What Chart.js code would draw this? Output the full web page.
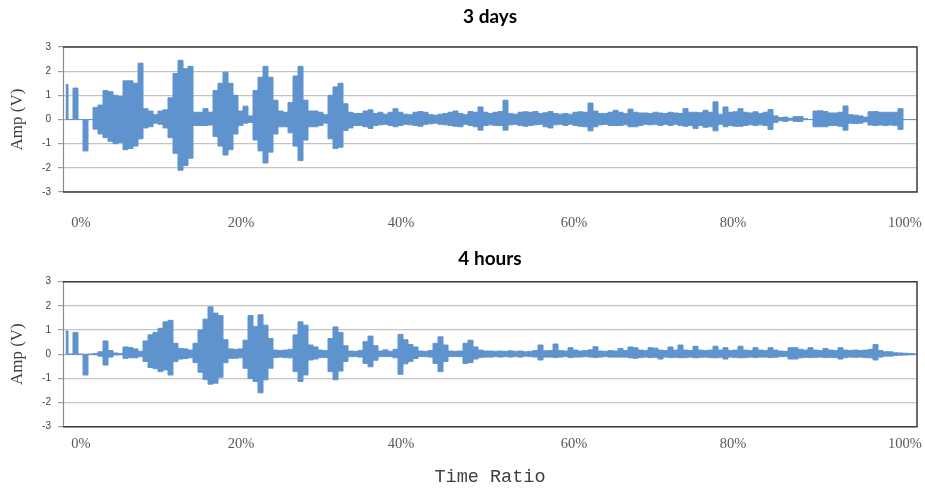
<!DOCTYPE html>
<html>
<head>
<meta charset="utf-8">
<script src="https://cdn.jsdelivr.net/npm/chart.js@4"></script>
<style>
  html, body { margin: 0; padding: 0; background: #fff; }
  .wrap { position: relative; width: 925px; }
  #top { height: 240px; }
  #bottom { height: 249px; }
</style>
</head>
<body>
<div class="wrap" id="top"><canvas id="chartTop"></canvas></div>
<div class="wrap" id="bottom"><canvas id="chartBottom"></canvas></div>
<script>
// envelope of the signal, one max/min pair per bin of 5 samples (854 samples per record)
const BIN = 5;
const SAMPLES = 854;

// x axis labels sit on given sample positions (category-style axis)
const xTickPos = [18, 178, 338, 511, 670, 842];
const xTickLabels = ['0%', '20%', '40%', '60%', '80%', '100%'];

// "3 days"
const topHi = [
  1.45, 0, 1.3, 0, 0, 0, 0.5, 0.6, 1.2, 1.15,
  1.0, 0.95, 1.6, 1.6, 1.5, 2.33, 0.45, 0.35, 0.2, 0.35,
  0.4, 0.9, 1.9, 2.45, 2.1, 2.2, 0.3, 0.3, 0.45, 0.3,
  1.2, 1.5, 1.96, 1.5, 1.0, 0.35, 0.55, 0.15, 1.2, 1.75,
  2.2, 1.75, 0.8, 0.35, 0.3, 0.7, 1.8, 2.2, 0.8, 0.35,
  0.35, 0.3, 0.2, 1.0, 1.35, 1.5, 0.65, 0.3, 0.25, 0.25,
  0.35, 0.4, 0.25, 0.3, 0.22, 0.3, 0.45, 0.3, 0.22, 0.2,
  0.3, 0.33, 0.3, 0.2, 0.18, 0.22, 0.25, 0.3, 0.35, 0.25,
  0.2, 0.33, 0.3, 0.52, 0.3, 0.25, 0.3, 0.33, 0.8, 0.25,
  0.22, 0.3, 0.32, 0.3, 0.33, 0.25, 0.28, 0.33, 0.25, 0.22,
  0.25, 0.22, 0.3, 0.32, 0.3, 0.68, 0.35, 0.25, 0.25, 0.3,
  0.38, 0.3, 0.25, 0.43, 0.3, 0.27, 0.27, 0.25, 0.3, 0.27,
  0.25, 0.3, 0.27, 0.25, 0.45, 0.3, 0.3, 0.28, 0.38, 0.3,
  0.73, 0.22, 0.52, 0.3, 0.32, 0.45, 0.3, 0.27, 0.32, 0.25,
  0.3, 0.41, 0.15, 0.08, 0.1, 0.05, 0.12, 0.12, 0.03, 0,
  0.35, 0.36, 0.33, 0.27, 0.27, 0.3, 0.56, 0.2, 0.18, 0.15,
  0.1, 0.32, 0.33, 0.3, 0.3, 0.3, 0.3, 0.45, 0, 0, 0
];
const topLo = [
  0, 0, 0, 0, -1.3, 0, -0.4, -0.6, -0.75, -0.9,
  -1.0, -0.95, -1.25, -1.2, -1.1, -0.8, -0.35, -0.3, -0.15, -0.2,
  -0.35, -0.75, -1.4, -2.1, -1.9, -1.6, -0.25, -0.25, -0.25, -0.23,
  -0.7, -1.1, -1.47, -1.25, -0.6, -0.25, -0.15, -0.12, -0.85, -1.3,
  -1.8, -1.35, -0.6, -0.3, -0.3, -0.55, -1.1, -1.7, -0.85, -0.3,
  -0.3, -0.25, -0.15, -0.8, -1.2, -1.15, -0.45, -0.35, -0.25, -0.25,
  -0.3, -0.37, -0.25, -0.22, -0.2, -0.25, -0.3, -0.25, -0.2, -0.22,
  -0.25, -0.28, -0.2, -0.18, -0.15, -0.2, -0.22, -0.25, -0.28, -0.3,
  -0.2, -0.25, -0.3, -0.44, -0.25, -0.22, -0.25, -0.25, -0.44, -0.22,
  -0.2, -0.25, -0.28, -0.25, -0.22, -0.2, -0.3, -0.35, -0.22, -0.2,
  -0.25, -0.2, -0.25, -0.28, -0.3, -0.47, -0.3, -0.22, -0.2, -0.25,
  -0.25, -0.25, -0.22, -0.3, -0.3, -0.25, -0.2, -0.22, -0.2, -0.25,
  -0.2, -0.25, -0.2, -0.25, -0.28, -0.25, -0.37, -0.25, -0.32, -0.3,
  -0.47, -0.2, -0.3, -0.25, -0.28, -0.28, -0.25, -0.22, -0.25, -0.22,
  -0.25, -0.41, -0.12, -0.05, -0.08, -0.03, -0.08, -0.08, 0, 0,
  -0.3, -0.3, -0.3, -0.25, -0.25, -0.28, -0.44, -0.15, -0.17, -0.15,
  -0.1, -0.23, -0.25, -0.23, -0.25, -0.23, -0.25, -0.41, 0, 0, 0
];

// "4 hours"
const bottomHi = [
  0.96, 0, 0.9, 0, 0, 0, 0.03, 0.1, 0.55, 0.15,
  0.05, 0.03, 0.3, 0.28, 0.22, 0.12, 0.55, 0.8, 0.9, 1.07,
  1.34, 1.4, 0.45, 0.24, 0.22, 0.17, 0.45, 1.0, 1.45, 1.96,
  1.7, 1.6, 0.6, 0.22, 0.2, 0.22, 0.58, 1.6, 1.15, 1.63,
  1.2, 0.65, 0.17, 0.15, 0.17, 0.2, 0.8, 1.34, 1.2, 0.38,
  0.3, 0.17, 0.15, 0.65, 1.13, 0.9, 0.35, 0.13, 0.12, 0.15,
  0.52, 0.75, 0.35, 0.13, 0.18, 0.12, 0.2, 0.82, 0.6, 0.4,
  0.3, 0.13, 0.12, 0.15, 0.45, 0.72, 0.38, 0.13, 0.12, 0.13,
  0.45, 0.58, 0.3, 0.17, 0.13, 0.13, 0.12, 0.13, 0.12, 0.14,
  0.12, 0.13, 0.1, 0.12, 0.15, 0.38, 0.14, 0.15, 0.42, 0.15,
  0.13, 0.27, 0.17, 0.13, 0.15, 0.18, 0.31, 0.13, 0.12, 0.15,
  0.13, 0.24, 0.15, 0.3, 0.27, 0.17, 0.15, 0.27, 0.25, 0.17,
  0.15, 0.3, 0.17, 0.38, 0.17, 0.15, 0.33, 0.17, 0.15, 0.17,
  0.33, 0.17, 0.27, 0.15, 0.17, 0.33, 0.17, 0.15, 0.27, 0.17,
  0.15, 0.27, 0.17, 0.13, 0.12, 0.27, 0.27, 0.2, 0.17, 0.27,
  0.17, 0.15, 0.24, 0.17, 0.15, 0.27, 0.17, 0.15, 0.17, 0.15,
  0.17, 0.2, 0.4, 0.15, 0.1, 0.1, 0.06, 0.05, 0.04, 0.03, 0.02
];
const bottomLo = [
  0, 0, 0, 0, -0.86, 0, -0.02, -0.08, -0.45, -0.12,
  -0.03, -0.02, -0.17, -0.15, -0.15, -0.1, -0.3, -0.55, -0.6, -0.72,
  -0.65, -0.86, -0.3, -0.2, -0.18, -0.15, -0.35, -0.75, -1.05, -1.24,
  -1.2, -0.95, -0.35, -0.17, -0.17, -0.15, -0.58, -1.0, -1.13, -1.6,
  -1.06, -0.58, -0.14, -0.12, -0.14, -0.15, -0.72, -1.13, -0.86, -0.24,
  -0.2, -0.14, -0.14, -0.72, -1.06, -0.7, -0.3, -0.1, -0.1, -0.12,
  -0.38, -0.52, -0.25, -0.1, -0.1, -0.1, -0.15, -0.83, -0.4, -0.3,
  -0.18, -0.1, -0.1, -0.12, -0.38, -0.72, -0.3, -0.1, -0.1, -0.1,
  -0.38, -0.35, -0.2, -0.14, -0.12, -0.12, -0.1, -0.12, -0.1, -0.12,
  -0.1, -0.12, -0.08, -0.1, -0.12, -0.24, -0.12, -0.12, -0.14, -0.12,
  -0.1, -0.14, -0.12, -0.12, -0.1, -0.12, -0.14, -0.12, -0.1, -0.12,
  -0.12, -0.12, -0.12, -0.15, -0.17, -0.14, -0.12, -0.14, -0.13, -0.2,
  -0.12, -0.14, -0.13, -0.15, -0.14, -0.12, -0.15, -0.13, -0.12, -0.14,
  -0.15, -0.13, -0.2, -0.12, -0.13, -0.15, -0.14, -0.12, -0.14, -0.12,
  -0.12, -0.14, -0.13, -0.1, -0.1, -0.2, -0.2, -0.15, -0.13, -0.14,
  -0.13, -0.12, -0.14, -0.13, -0.14, -0.2, -0.14, -0.12, -0.13, -0.12,
  -0.14, -0.15, -0.24, -0.12, -0.08, -0.08, -0.05, -0.04, -0.03, -0.02, -0.01
];

const BLUE = '#5f93cd';

// one point per bin, at the bin centre
const toPoints = (arr) => arr.map((v, i) => ({ x: i * BIN + BIN / 2, y: v }));

// plot area frame: dark top/right/bottom, grey left axis
const frame = {
  id: 'frame',
  afterDraw(chart) {
    const { ctx, chartArea: a } = chart;
    ctx.save();
    ctx.strokeStyle = '#8c8c8c';
    ctx.lineWidth = 1.2;
    ctx.beginPath();
    ctx.moveTo(a.left + 0.5, a.top);
    ctx.lineTo(a.left + 0.5, a.bottom);
    ctx.stroke();
    ctx.strokeStyle = '#3c3c3c';
    ctx.lineWidth = 1.5;
    ctx.beginPath();
    ctx.moveTo(a.left, a.top);
    ctx.lineTo(a.right, a.top);
    ctx.lineTo(a.right, a.bottom);
    ctx.lineTo(a.left, a.bottom);
    ctx.stroke();
    ctx.restore();
  }
};

function makeChart(id, title, hi, lo, o) {
  const line = {
    borderColor: BLUE,
    backgroundColor: BLUE,
    borderWidth: 1,
    pointRadius: 0,
    stepped: 'middle'
  };
  return new Chart(document.getElementById(id), {
    type: 'line',
    data: {
      datasets: [
        { ...line, label: 'max', data: toPoints(hi), fill: false },
        { ...line, label: 'min', data: toPoints(lo), fill: '-1' }
      ]
    },
    plugins: [frame],
    options: {
      responsive: true,
      maintainAspectRatio: false,
      animation: false,
      layout: { padding: o.layout },
      scales: {
        x: {
          type: 'linear',
          min: 0,
          max: SAMPLES,
          afterBuildTicks: (s) => { s.ticks = xTickPos.map(v => ({ value: v })); },
          ticks: {
            autoSkip: false,
            maxRotation: 0,
            padding: 2,
            color: '#595959',
            font: { family: 'Liberation Serif', size: 14.5 },
            callback: (v) => xTickLabels[xTickPos.indexOf(v)]
          },
          // invisible tick marks only push the labels down
          grid: { display: true, drawOnChartArea: false, drawTicks: true, tickLength: o.xGap, tickColor: 'rgba(0,0,0,0)' },
          border: { display: false },
          title: o.xTitle || { display: false }
        },
        y: {
          min: -3,
          max: 3,
          afterFit: (s) => { s.width = 63; },
          ticks: {
            stepSize: 1,
            padding: 7,
            color: '#404040',
            font: { family: 'Liberation Sans', size: 10 }
          },
          grid: { color: '#c4c4c4', lineWidth: 1.2, tickLength: 5, tickColor: '#a0a0a0' },
          border: { display: false },
          title: {
            display: true,
            text: 'Amp (V)',
            color: '#404040',
            padding: { top: 7.8, bottom: 0 },
            font: { family: 'Liberation Serif', size: 17 }
          }
        }
      },
      plugins: {
        legend: { display: false },
        tooltip: { enabled: false },
        title: {
          display: true,
          text: title,
          fullSize: false,
          color: '#000',
          padding: o.titlePad,
          font: { family: 'Lato', size: 19, weight: 'bold' }
        }
      }
    }
  });
}

makeChart('chartTop', '3 days', topHi, topLo, {
  layout: { top: 0, right: 8, bottom: 5.8, left: 0 },
  titlePad: { top: 5.6, bottom: 18.6 },
  xGap: 20.8
});

makeChart('chartBottom', '4 hours', bottomHi, bottomLo, {
  layout: { top: 0, right: 8, bottom: 0, left: 0 },
  titlePad: { top: 7.6, bottom: 11.3 },
  xGap: 6.6,
  xTitle: {
    display: true,
    text: 'Time Ratio',
    color: '#404040',
    padding: { top: 11.1, bottom: 1 },
    font: { family: 'Liberation Mono', size: 18.5 }
  }
});
</script>
</body>
</html>
